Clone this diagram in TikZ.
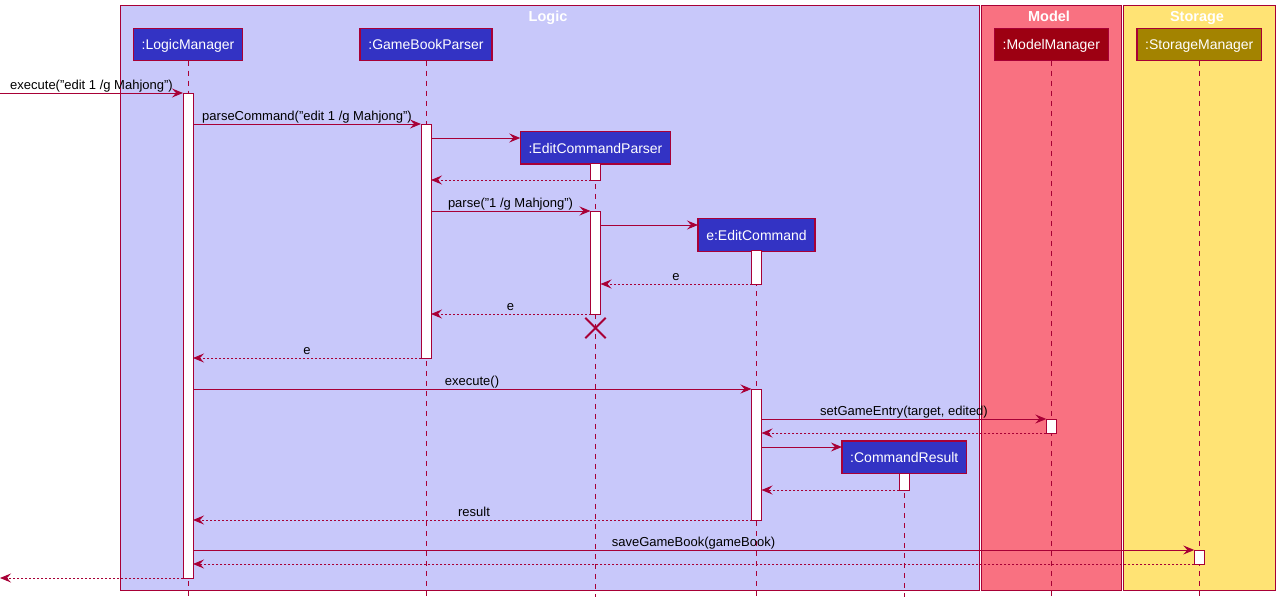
\documentclass[tikz,border=0pt]{standalone}
\usepackage{fontspec}
\setmainfont{Liberation Sans}
\usetikzlibrary{arrows.meta}

\definecolor{umlred}{HTML}{A80036}
\definecolor{logicT}{HTML}{C8C8FA}
\definecolor{logicC}{HTML}{3333C4}
\definecolor{modelT}{HTML}{F97181}
\definecolor{modelC}{HTML}{9D0012}
\definecolor{storeT}{HTML}{FFE374}
\definecolor{storeC}{HTML}{A38300}

\tikzset{
  grp/.style={draw=umlred, line width=1pt},
  grptitle/.style={text=white, font=\fontsize{14.5}{16}\selectfont\bfseries, anchor=base},
  part/.style={draw=umlred, line width=1.3pt, text=white, inner xsep=8.3pt, inner ysep=0pt,
    outer sep=0pt, minimum height=32.5pt, text height=11pt, text depth=0pt,
    font=\fontsize{14}{16}\selectfont},
  lifeline/.style={draw=umlred, line width=1pt, dash pattern=on 5pt off 5pt},
  actbar/.style={draw=umlred, fill=white, line width=1pt, minimum width=10pt, inner sep=0pt,
    outer sep=0pt, anchor=north},
  tip/.style={-{Stealth[length=11pt, width=9pt, inset=4pt]}},
  msg/.style={draw=umlred, line width=1pt, tip},
  ret/.style={draw=umlred, line width=1pt, dash pattern=on 2pt off 2pt, tip},
  lbl/.style={font=\fontsize{13}{15}\selectfont, anchor=base, inner sep=0pt},
}

\begin{document}
\begin{tikzpicture}[x=1pt, y=-1pt]
\useasboundingbox (0,0) rectangle (1280,602);

% group boxes
\draw[grp, fill=logicT] (120,6) rectangle (979,590);
\draw[grp, fill=modelT] (981,6) rectangle (1121.5,590);
\draw[grp, fill=storeT] (1123.5,6) rectangle (1275.5,590);
\node[grptitle] (tLogic) at (548,22) {Logic};
\node[grptitle] (tModel) at (1049,22) {Model};
\node[grptitle] (tStore) at (1197,22) {Storage};

% participants
\node[part, fill=logicC] (lm) at (188,44.5) {:LogicManager};
\node[part, fill=logicC] (gp) at (426,44.5) {:GameBookParser};
\node[part, fill=logicC] (ecp) at (595.5,147.7) {:EditCommandParser};
\node[part, fill=logicC] (ec) at (756.5,235) {e:EditCommand};
\node[part, fill=logicC] (cr) at (904.3,457.2) {:CommandResult};
\node[part, fill=modelC] (mm) at (1051.3,44.5) {:ModelManager};
\node[part, fill=storeC] (sm) at (1199.3,44.5) {:StorageManager};

% lifelines
\foreach \p in {lm,gp,ecp,ec,cr,mm,sm}{
  \coordinate (\p end) at (\p.south |- 0,597);
  \draw[lifeline] (\p.south) -- (\p end);
}

% activation bars
\node[actbar, minimum height=485pt] (lmA) at (188,93) {};
\node[actbar, minimum height=234pt] (gpA) at (426,124) {};
\node[actbar, minimum height=17pt] (ecpA) at (595.5,163.3) {};
\node[actbar, minimum height=103pt] (ecpB) at (595.5,211) {};
\node[actbar, minimum height=33.5pt] (ecA) at (756.5,250.7) {};
\node[actbar, minimum height=131pt] (ecB) at (756.5,389) {};
\node[actbar, minimum height=14pt] (mmA) at (1051.3,419) {};
\node[actbar, minimum height=17pt] (crA) at (904.3,473.3) {};
\node[actbar, minimum height=14pt] (smA) at (1199.3,550) {};

% destruction of the parser
\node[inner sep=0pt, minimum size=20pt] (ecpX) at (595.5,328) {};
\draw[umlred, line width=2pt] (ecpX.north west) -- (ecpX.south east)
  (ecpX.north east) -- (ecpX.south west);

% messages
\coordinate (in) at (0,93);
\coordinate (out) at (0,578);
\draw[msg] (in) -- (lmA.west |- in);
\node[lbl] at (91.5,89.5) {execute("edit 1 /g Mahjong")};

\draw[msg] (lmA.east |- 0,124) -- (gpA.west |- 0,124);
\node[lbl] at (307,120.5) {parseCommand("edit 1 /g Mahjong")};

\draw[msg] (gpA.east |- 0,138) -- (ecp.west |- 0,138);
\draw[ret] (ecpA.west |- 0,180) -- (gpA.east |- 0,180);

\draw[msg] (gpA.east |- 0,211) -- (ecpB.west |- 0,211);
\node[lbl] at (510.5,207.5) {parse("1 /g Mahjong")};

\draw[msg] (ecpB.east |- 0,225) -- (ec.west |- 0,225);
\draw[ret] (ecA.west |- 0,284) -- (ecpB.east |- 0,284);
\node[lbl] at (676,280.5) {e};

\draw[ret] (ecpB.west |- 0,314) -- (gpA.east |- 0,314);
\node[lbl] at (510.5,310.5) {e};

\draw[ret] (gpA.west |- 0,358) -- (lmA.east |- 0,358);
\node[lbl] at (307,354.5) {e};

\draw[msg] (lmA.east |- 0,389) -- (ecB.west |- 0,389);
\node[lbl] at (472,385.5) {execute()};

\draw[msg] (ecB.east |- 0,419) -- (mmA.west |- 0,419);
\node[lbl] at (904,415.5) {setGameEntry(target, edited)};
\draw[ret] (mmA.west |- 0,433) -- (ecB.east |- 0,433);

\draw[msg] (ecB.east |- 0,447) -- (cr.west |- 0,447);
\draw[ret] (crA.west |- 0,490) -- (ecB.east |- 0,490);

\draw[ret] (ecB.west |- 0,520) -- (lmA.east |- 0,520);
\node[lbl] at (474,516.5) {result};

\draw[msg] (lmA.east |- 0,550) -- (smA.west |- 0,550);
\node[lbl] at (693.5,546.5) {saveGameBook(gameBook)};
\draw[ret] (smA.west |- 0,564) -- (lmA.east |- 0,564);

\draw[ret] (lmA.west |- out) -- (out);
\end{tikzpicture}
\end{document}
